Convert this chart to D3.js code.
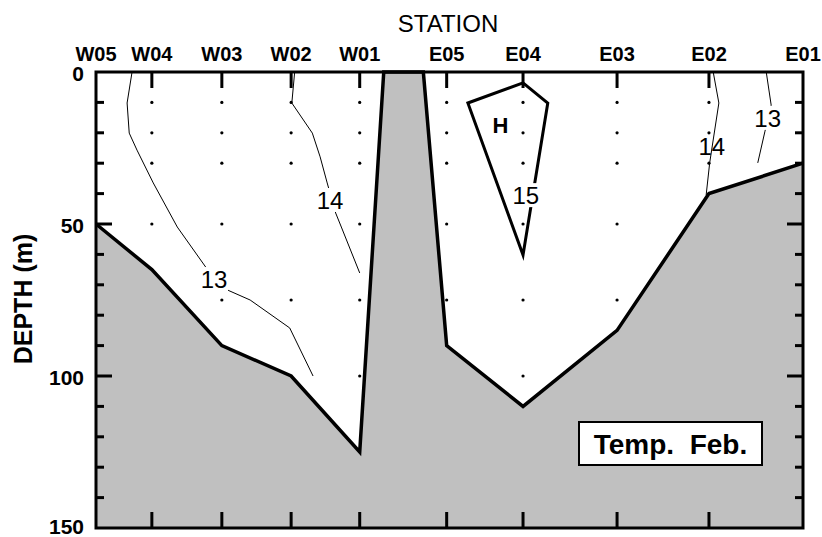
<!DOCTYPE html>
<html>
<head>
<meta charset="utf-8">
<script src="https://cdn.jsdelivr.net/npm/d3@7"></script>
<style>
  body { margin:0; background:#fff; }
  text { font-family: "Liberation Sans", Arial, Helvetica, sans-serif; }
</style>
</head>
<body>
<svg id="graf"></svg>
<script>
// stations along the section (distance in arbitrary km-like units, 0..100)
var stations = ["W05","W04","W03","W02","W01","E05","E04","E03","E02","E01"];
var stationDist = [0, 7.9, 17.8, 27.6, 37.3, 49.6, 60.4, 73.7, 86.7, 100];
var bottomDepth = [50, 65, 90, 100, 125, 90, 110, 85, 40, 30];
// seamount crest between W01 and E05
var ridgeDist = [40.7, 46.3];
var ridgeDepth = [0, 0];
// standard sampling depths
var sampleDepths = [10, 20, 30, 50, 75, 100];
var depthTicks = [0, 50, 100, 150];

// contour lines [dist, depth]
var c13W = [[5.1,0],[4.4,10.2],[4.7,20.1],[5.8,25.7],[8.1,36.5],[11.5,51],[15.8,65.1],[18.0,71.1],[21.8,75],[27.4,84.2],[30.7,100]];
var c14W = [[28.1,0],[27.7,10.2],[30.6,20.1],[31.7,27.9],[32.7,36.5],[33.9,46.4],[34.7,51],[37.3,66.1]];
var c15  = [[60.4,3.6],[63.9,10.2],[60.4,60.2],[52.6,10.2],[60.4,3.6]];
var c14E = [[87.3,0],[88.1,10.2],[86.8,29.9],[86.3,40.5]];
var c13E = [[94.8,0],[95.5,10.9],[94.6,19.7],[93.6,29.9]];

var labelText  = ["13", "14", "15", "14", "13"];
var labelDist  = [16.7, 33.1, 60.8, 87.1, 95.0];
var labelDepth = [68.1, 42.1, 40.5, 24.3, 15.1];
var labelGap   = [true, true, true, false, true];

var width = 822, height = 537;
var svg = d3.select("#graf").attr("width", width).attr("height", height);

var x = d3.scaleLinear().domain([0, 100]).range([96, 803]);
var y = d3.scaleLinear().domain([0, 150]).range([72, 528]);

// bottom profile (with the seamount)
var profilo = [];
stations.forEach(function(s, i) {
    profilo.push([stationDist[i], bottomDepth[i]]);
    if (s == "W01") {
        profilo.push([ridgeDist[0], ridgeDepth[0]]);
        profilo.push([ridgeDist[1], ridgeDepth[1]]);
    }
});
var line = d3.line().x(function(d){ return x(d[0]); }).y(function(d){ return y(d[1]); });

var area = profilo.concat([[100,150],[0,150]]);
svg.append("path")
    .attr("d", line(area) + "Z")
    .attr("fill", "#c0c0c0");

// sample dots
stations.forEach(function(s, i) {
    if (i == 0 || i == stations.length - 1) return;
    sampleDepths.filter(function(d){ return d < bottomDepth[i]; }).forEach(function(d) {
        svg.append("circle")
            .attr("cx", x(stationDist[i]))
            .attr("cy", y(d))
            .attr("r", 1.6)
            .attr("fill", "black");
    });
});

// thin contours
[c13W, c14W, c14E, c13E].forEach(function(c) {
    svg.append("path")
        .attr("d", line(c))
        .attr("fill", "none")
        .attr("stroke", "black")
        .attr("stroke-width", 1);
});
// 15 degree closed contour (thick)
svg.append("path")
    .attr("d", line(c15))
    .attr("fill", "none")
    .attr("stroke", "black")
    .attr("stroke-width", 3)
    .attr("stroke-linejoin", "miter");

// bottom line
svg.append("path")
    .attr("d", line(profilo))
    .attr("fill", "none")
    .attr("stroke", "black")
    .attr("stroke-width", 3.5)
    .attr("stroke-linejoin", "miter");

// contour labels
labelText.forEach(function(t, i) {
    var cx = x(labelDist[i]), cy = y(labelDepth[i]);
    if (labelGap[i]) {
        svg.append("rect")
            .attr("x", cx - 14).attr("y", cy - 12)
            .attr("width", 28).attr("height", 24)
            .attr("fill", "white");
    }
    svg.append("text")
        .attr("x", cx).attr("y", cy)
        .attr("dy", ".36em")
        .attr("text-anchor", "middle")
        .style("font-size", "24px")
        .text(t);
});
svg.append("text")
    .attr("x", x(57.2)).attr("y", y(17.5))
    .attr("dy", ".36em")
    .attr("text-anchor", "middle")
    .style("font-size", "22px")
    .style("font-weight", "bold")
    .text("H");

// frame
svg.append("rect")
    .attr("x", x(0)).attr("y", y(0))
    .attr("width", x(100) - x(0)).attr("height", y(150) - y(0))
    .attr("fill", "none")
    .attr("stroke", "black")
    .attr("stroke-width", 3);

// station ticks top and bottom
stations.forEach(function(s, i) {
    var sx = x(stationDist[i]);
    if (i > 0 && i < stations.length - 1) {
        svg.append("line").attr("x1", sx).attr("x2", sx).attr("y1", y(0)).attr("y2", y(0) + 16)
            .attr("stroke", "black").attr("stroke-width", 3);
        svg.append("line").attr("x1", sx).attr("x2", sx).attr("y1", y(150)).attr("y2", y(150) - 16)
            .attr("stroke", "black").attr("stroke-width", 3);
    }
    svg.append("text")
        .attr("x", sx).attr("y", 61)
        .attr("text-anchor", "middle")
        .style("font-size", "20px")
        .style("font-weight", "bold")
        .text(s);
});

// depth ticks left and right (minor every 10 m)
d3.range(10, 150, 10).forEach(function(d) {
    var len = (d % 50 == 0) ? 16 : 8;
    svg.append("line").attr("x1", x(0)).attr("x2", x(0) + len).attr("y1", y(d)).attr("y2", y(d))
        .attr("stroke", "black").attr("stroke-width", 3);
    svg.append("line").attr("x1", x(100)).attr("x2", x(100) - len).attr("y1", y(d)).attr("y2", y(d))
        .attr("stroke", "black").attr("stroke-width", 3);
});
depthTicks.forEach(function(d) {
    var off = (d == 0) ? 1 : (d == 150 ? -2 : 1);
    svg.append("text")
        .attr("x", 84).attr("y", y(d) + off)
        .attr("dy", ".36em")
        .attr("text-anchor", "end")
        .style("font-size", "21px")
        .style("font-weight", "bold")
        .text(d);
});

// titles
svg.append("text")
    .attr("x", 448).attr("y", 32)
    .attr("text-anchor", "middle")
    .style("font-size", "24px")
    .text("STATION");
svg.append("text")
    .attr("transform", "translate(32,299) rotate(-90)")
    .attr("text-anchor", "middle")
    .style("font-size", "25px")
    .style("font-weight", "bold")
    .style("white-space", "pre")
    .text("DEPTH (m)");

// legend box
svg.append("rect")
    .attr("x", 579).attr("y", 422)
    .attr("width", 183).attr("height", 43)
    .attr("fill", "white")
    .attr("stroke", "black")
    .attr("stroke-width", 2);
svg.append("text")
    .attr("x", 670.5).attr("y", 443.5)
    .attr("dy", ".36em")
    .attr("text-anchor", "middle")
    .style("font-size", "28px")
    .style("font-weight", "bold")
    .style("white-space", "pre")
    .text("Temp.  Feb.");
</script>
</body>
</html>
